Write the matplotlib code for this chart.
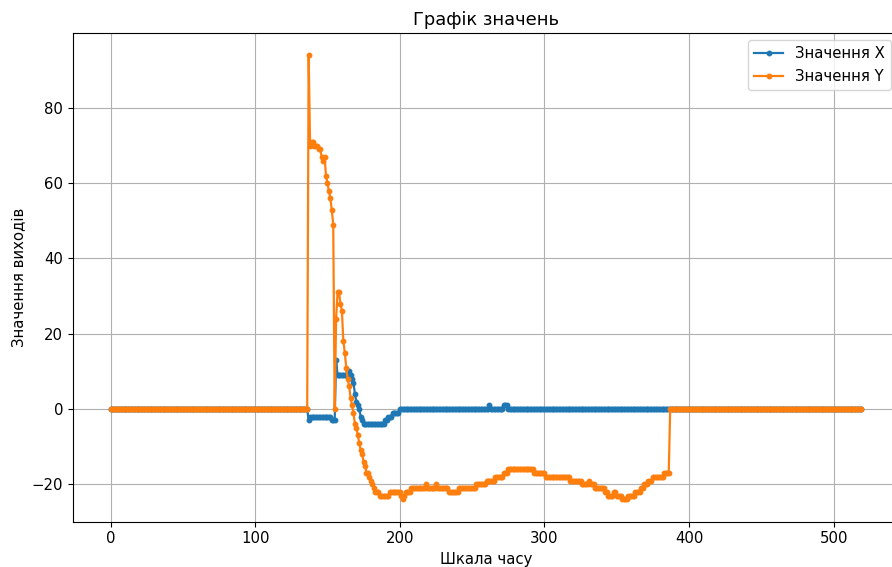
import numpy as np
import matplotlib
matplotlib.use("Agg")
import matplotlib.pyplot as plt

n_points = 520  # time steps 0..519

# Series X: (start index, value) -- value holds until next start
x_starts = [0, 137, 138, 153, 156, 157, 164, 166, 167, 168, 169, 170, 171, 172,
            173, 174, 175, 190, 192, 195, 200, 262, 263, 272, 275]
x_levels = [0, -3, -2, -3, 13, 9, 10, 9, 8, 7, 4, 2, 1, 0,
            -2, -3, -4, -3, -2, -1, 0, 1, 0, 1, 0]

# Series Y: (start index, value)
y_starts = [0, 137, 138, 139, 141, 144, 146, 147, 148, 149, 150, 151, 152, 153, 154,
            155, 156, 157, 159, 160, 161, 162, 163, 164, 165, 166, 167, 168, 169,
            170, 171, 172, 173, 174, 175, 176, 177, 179, 180, 181, 182, 183, 186,
            193, 201, 202, 203, 204, 208, 218, 219, 225, 226, 234, 241, 253, 260,
            266, 272, 275, 293, 301, 318, 326, 331, 332, 335, 342, 344, 348, 350,
            354, 358, 363, 367, 369, 372, 375, 383, 387]
y_levels = [0, 94, 70, 71, 70, 69, 67, 66, 67, 62, 60, 58, 56, 53, 49,
            0, 24, 31, 28, 26, 18, 15, 11, 8, 6, 3, 1, -1, -4,
            -5, -7, -9, -11, -12, -14, -15, -17, -18, -19, -20, -21, -22, -23,
            -22, -23, -24, -23, -22, -21, -20, -21, -20, -21, -22, -21, -20, -19,
            -18, -17, -16, -17, -18, -19, -20, -19, -20, -21, -22, -23, -22, -23,
            -24, -23, -22, -21, -20, -19, -18, -17, 0]


def expand(starts, levels, n):
    out = np.zeros(n)
    bounds = list(starts) + [n]
    for i, v in enumerate(levels):
        out[bounds[i]:bounds[i + 1]] = v
    return out


t = np.arange(n_points)
xs = expand(x_starts, x_levels, n_points)
ys = expand(y_starts, y_levels, n_points)

plt.rcParams['font.size'] = 10.7

fig = plt.figure(figsize=(8.92, 5.67), dpi=100)
ax = fig.add_axes([73 / 892, 45.4 / 567, 825.6 / 892, 488.6 / 567])
ax.plot(t, xs, marker='.', lw=1.6, ms=6.4, label='Значення X')
ax.plot(t, ys, marker='.', lw=1.6, ms=6.4, label='Значення Y')
ax.set_title('Графік значень')
ax.set_xlabel('Шкала часу')
ax.set_ylabel('Значення виходів')
ax.grid(True)
ax.legend()
fig.savefig('out.png', dpi=100)
